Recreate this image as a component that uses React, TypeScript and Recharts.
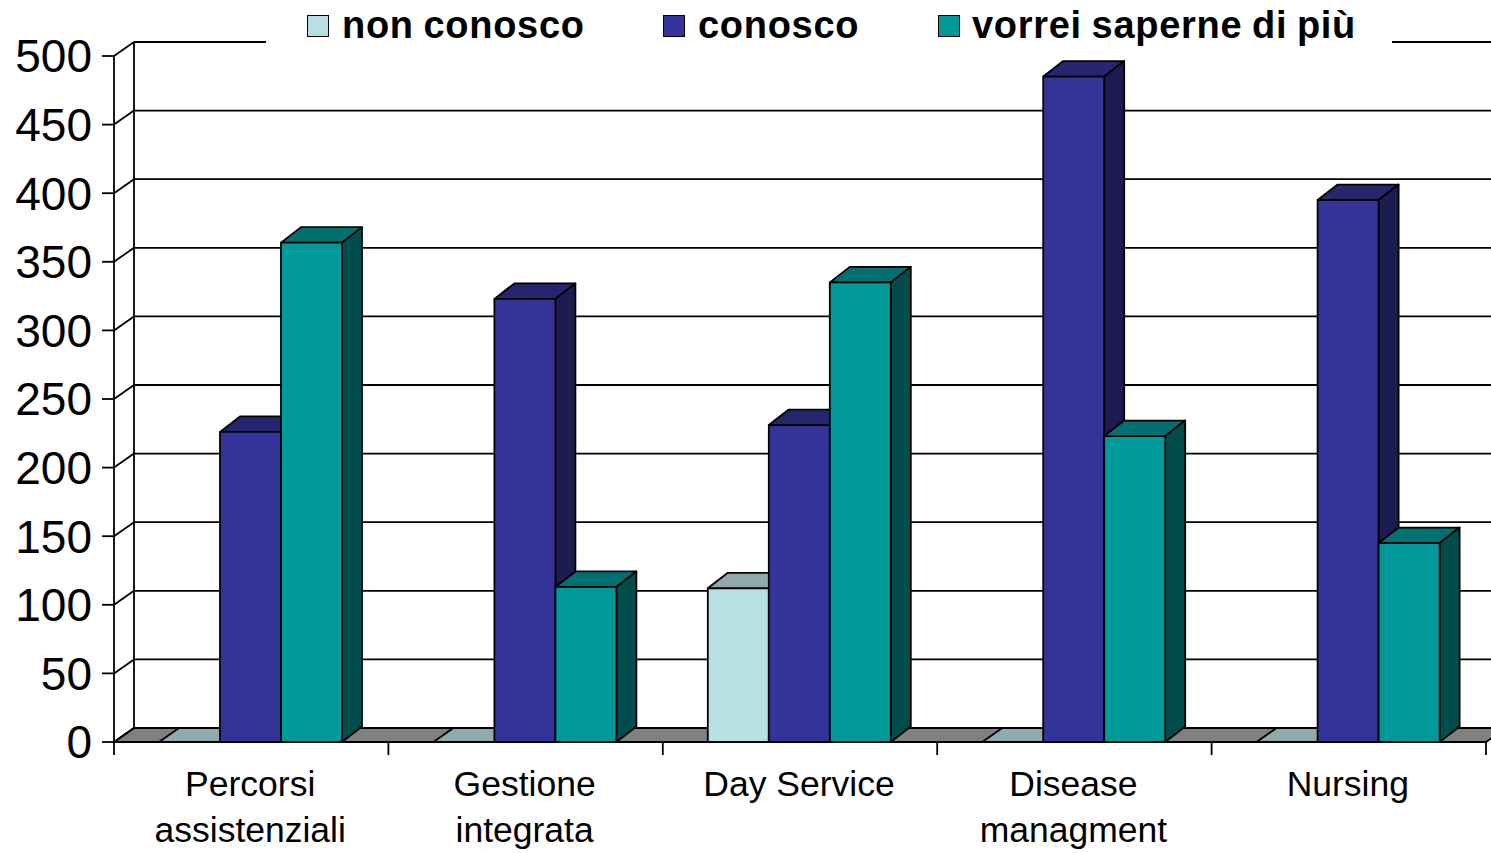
import { BarChart, Bar, XAxis, YAxis, CartesianGrid, Legend } from "recharts";

const categories = ["Percorsi\nassistenziali", "Gestione\nintegrata", "Day Service", "Disease\nmanagment", "Nursing"];
const nonConosco = [0, 0, 112, 0, 0];
const conosco = [226, 323, 231, 485, 395];
const vorrei = [364, 113, 335, 223, 145];
const yTicks = [0, 50, 100, 150, 200, 250, 300, 350, 400, 450, 500];

const data = categories.map((name, i) => ({
  name,
  nonConosco: nonConosco[i],
  conosco: conosco[i],
  vorrei: vorrei[i],
}));

const FONT = '"Liberation Sans", Arial, sans-serif';
const WIDTH = 1491;
const HEIGHT = 853;
const PLOT_TOP = 56;
const PLOT_BOTTOM = 742;
const PLOT_LEFT = 114;
const PLOT_RIGHT = 1486;
const DX = 20;
const DY = 14;
const LINE = 1.8;

const legendItems = [
  { label: "non conosco", fill: "#B8DFE3", swatch: 307, text: 342 },
  { label: "conosco", fill: "#333399", swatch: 663, text: 698 },
  { label: "vorrei saperne di più", fill: "#009999", swatch: 938, text: 972 },
];

// draws a bar as a front face with a top and a side going back
function bar3d(face: string, top: string, side: string) {
  return (props: any) => {
    const { x, y, width, height } = props;
    const d = height > 0 ? 15.5 : DY;
    return (
      <g stroke="#000" strokeWidth={LINE} strokeLinejoin="round">
        <polygon
          fill={top}
          points={`${x},${y} ${x + DX},${y - d} ${x + width + DX},${y - d} ${x + width},${y}`}
        />
        {height > 0 && (
          <>
            <polygon
              fill={side}
              points={`${x + width},${y} ${x + width + DX},${y - d} ${x + width + DX},${y + height - d} ${x + width},${y + height}`}
            />
            <rect x={x} y={y} width={width} height={height} fill={face} />
          </>
        )}
      </g>
    );
  };
}

// back wall line + diagonal to the front axis, floor at the zero line
function wallLine(props: any) {
  const { x1, x2, y1, index } = props;
  const isFloor = Math.abs(y1 - PLOT_BOTTOM) < 1.5;
  const isTop = Math.abs(y1 - PLOT_TOP) < 1.5;
  return (
    <g key={index} stroke="#000" strokeWidth={LINE} fill="none">
      {isFloor && (
        <polygon
          fill="#808080"
          points={`${x1},${y1} ${x1 + DX},${y1 - DY} ${x2 + DX},${y1 - DY} ${x2},${y1}`}
        />
      )}
      {isTop && <line x1={x1 + DX} x2={x1 + DX} y1={y1 - DY} y2={PLOT_BOTTOM - DY} />}
      <line x1={x1} y1={y1} x2={x1 + DX} y2={y1 - DY} />
      <line x1={x1 + DX} y1={y1 - DY} x2={x2 + DX} y2={y1 - DY} />
    </g>
  );
}

// two-line label, with the tick marks on the category edges instead of the centre
function CategoryTick(props: any) {
  const { x, y, payload, index } = props;
  const lines = String(payload.value).split("\n");
  const half = (PLOT_RIGHT - PLOT_LEFT) / categories.length / 2;
  const last = index === categories.length - 1;
  return (
    <g>
      <line x1={x - half} x2={x - half} y1={PLOT_BOTTOM} y2={PLOT_BOTTOM + 13} stroke="#000" strokeWidth={LINE} />
      {last && <line x1={x + half} x2={x + half} y1={PLOT_BOTTOM} y2={PLOT_BOTTOM + 13} stroke="#000" strokeWidth={LINE} />}
      <text x={x - 1} y={y} textAnchor="middle" fontFamily={FONT} fontSize={35.5} fill="#000">
        {lines.map((line, i) => (
          <tspan key={line} x={x - 1} y={y + 46 + i * 46}>
            {line}
          </tspan>
        ))}
      </text>
    </g>
  );
}

function LegendBox() {
  return (
    <div style={{ position: "relative", width: 1126, height: 48, background: "#fff" }}>
      {legendItems.map((item) => (
        <div key={item.label}>
          <div
            style={{
              position: "absolute",
              left: item.swatch - 266,
              top: 15,
              width: 20,
              height: 20,
              background: item.fill,
              border: "1.5px solid #000",
            }}
          />
          <div
            style={{
              position: "absolute",
              left: item.text - 266,
              top: 4,
              fontFamily: FONT,
              fontWeight: 700,
              fontSize: 38,
              lineHeight: "42px",
              letterSpacing: 0.7,
              wordSpacing: -1.5,
              whiteSpace: "nowrap",
              color: "#000",
            }}
          >
            {item.label}
          </div>
        </div>
      ))}
    </div>
  );
}

export default function App() {
  return (
    <div style={{ position: "absolute", left: 0, top: 0, width: WIDTH, height: HEIGHT, overflow: "hidden", background: "#fff" }}>
      <BarChart
        width={WIDTH}
        height={HEIGHT}
        data={data}
        margin={{ top: PLOT_TOP, right: WIDTH - PLOT_RIGHT, bottom: 0, left: 0 }}
        barCategoryGap={45}
        barGap={0}
      >
        <CartesianGrid vertical={false} horizontal={wallLine} />
        <XAxis
          dataKey="name"
          height={HEIGHT - PLOT_BOTTOM}
          tickLine={false}
          tick={<CategoryTick />}
          interval={0}
          stroke="#000"
          strokeWidth={LINE}
        />
        <YAxis
          width={PLOT_LEFT}
          domain={[0, 500]}
          ticks={yTicks}
          interval={0}
          tickSize={12}
          tickMargin={10}
          stroke="#000"
          strokeWidth={LINE}
          tick={{ fill: "#000", fontSize: 46, fontFamily: FONT }}
        />
        <Legend
          layout="horizontal"
          verticalAlign="middle"
          align="center"
          content={<LegendBox />}
          wrapperStyle={{ position: "absolute", left: 266, top: 0, width: 1126, height: 0 }}
        />
        <Bar dataKey="nonConosco" isAnimationActive={false} shape={bar3d("#B8DFE3", "#8FA9AD", "#6F8F93")} />
        <Bar dataKey="conosco" isAnimationActive={false} shape={bar3d("#333399", "#26266F", "#1C1C50")} />
        <Bar dataKey="vorrei" isAnimationActive={false} shape={bar3d("#009999", "#007070", "#004D4D")} />
      </BarChart>
    </div>
  );
}
